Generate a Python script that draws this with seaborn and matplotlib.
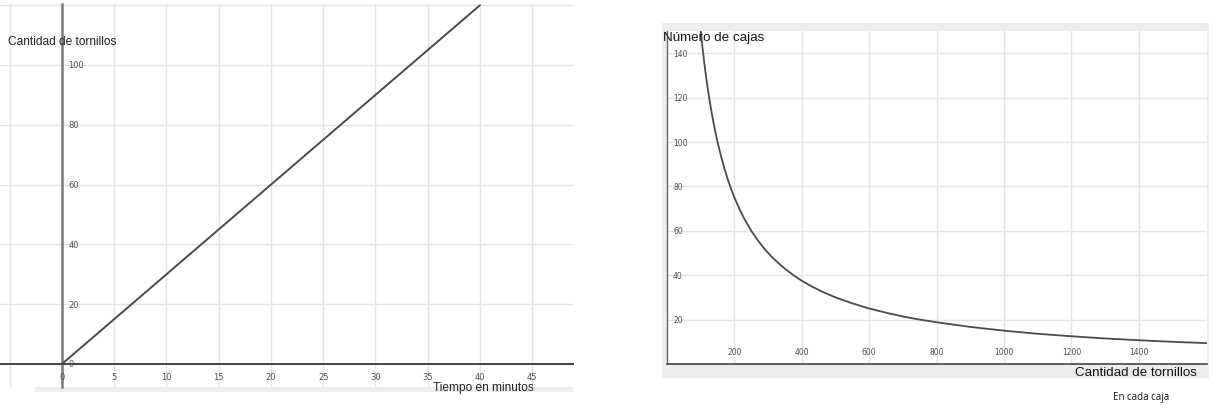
import matplotlib
matplotlib.use("Agg")
import matplotlib.pyplot as plt
import seaborn as sns
import pandas as pd
from matplotlib.patches import Rectangle

# Left chart: screws produced over time
tiempo = [0, 40]
tornillos = [0, 120]
ticks_tiempo = [0, 5, 10, 15, 20, 25, 30, 35, 40, 45]
ticks_tornillos = [0, 20, 40, 60, 80, 100, 120]
labels_tornillos = ["0", "20", "40", "60", "80", "100", ""]

# Right chart: number of boxes vs screws per box
por_caja = [100, 105, 110, 115, 120, 125, 130, 135, 140, 145, 150, 160, 170, 180, 190,
            200, 215, 230, 250, 270, 290, 310, 330, 350, 375, 400, 430, 460, 500,
            550, 600, 650, 700, 750, 800, 900, 1000, 1100, 1200, 1300, 1400, 1500, 1600]
cajas = [150, 142.9, 136.4, 130.4, 125, 120, 115.4, 111.1, 107.1, 103.4, 100, 93.8, 88.2,
         83.3, 78.9, 75, 69.8, 65.2, 60, 55.6, 51.7, 48.4, 45.5, 42.9, 40, 37.5, 34.9,
         32.6, 30, 27.3, 25, 23.1, 21.4, 20, 18.8, 16.7, 15, 13.6, 12.5, 11.5, 10.7, 10, 9.4]
ticks_por_caja = [200, 400, 600, 800, 1000, 1200, 1400]
ticks_cajas = [20, 40, 60, 80, 100, 120, 140]

W, H = 1218, 414

sns.set_style("white")
plt.rcParams["font.family"] = ["Liberation Sans", "DejaVu Sans"]

fig = plt.figure(figsize=(W / 100, H / 100), dpi=100)


def box(x0, y0, x1, y1):
    # pixel box (top-left origin) -> figure fraction rect
    return [x0 / W, 1 - y1 / H, (x1 - x0) / W, (y1 - y0) / H]


def px(x, y):
    return x / W, 1 - y / H


grid_col = "#e4e4e4"
tick_col = "#505050"

# grey backgrounds behind the charts
fig.patches.append(Rectangle(px(35, 393), 538 / W, 5 / H, transform=fig.transFigure,
                             facecolor="#ececec", edgecolor="none", zorder=-5))
fig.patches.append(Rectangle(px(662, 379), 547 / W, 355 / H, transform=fig.transFigure,
                             facecolor="#ededed", edgecolor="none", zorder=-5))

# ----- Left chart -----
ax1 = fig.add_axes(box(0, 5, 573, 388))
ax1.patch.set_alpha(0)
df1 = pd.DataFrame({"t": tiempo, "n": tornillos})
sns.lineplot(data=df1, x="t", y="n", ax=ax1, color="#4a4a4a", linewidth=1.4, zorder=5)
ax1.set_xlim(-5.93, 48.9)
ax1.set_ylim(-7.7, 120.4)
for v in [-5] + ticks_tiempo:
    ax1.axvline(v, color=grid_col, linewidth=1, zorder=0)
for v in ticks_tornillos:
    ax1.axhline(v, color=grid_col, linewidth=1, zorder=0)
for s in ["top", "right"]:
    ax1.spines[s].set_visible(False)
ax1.spines["left"].set_position(("data", 0))
ax1.spines["bottom"].set_position(("data", 0))
ax1.spines["left"].set_color("#7a7a7a")
ax1.spines["left"].set_linewidth(1.8)
ax1.spines["bottom"].set_color("#444444")
ax1.spines["bottom"].set_linewidth(1.4)
ax1.set_xticks(ticks_tiempo)
ax1.set_yticks(ticks_tornillos)
ax1.tick_params(direction="inout", length=8.5, width=1.2, color="#333333",
                labelleft=False, labelbottom=False)
for v in ticks_tiempo:
    ax1.text(v, -2.6, str(v), ha="center", va="top", fontsize=6,
             color=tick_col, family="DejaVu Sans")
for v, lab in zip(ticks_tornillos, labels_tornillos):
    ax1.text(0.6, v, lab, ha="left", va="center", fontsize=6,
             color=tick_col, family="DejaVu Sans")
ax1.set_xlabel("")
ax1.set_ylabel("")
fig.text(*px(8, 42), "Cantidad de tornillos", ha="left", va="center",
         fontsize=8.6, color="#222222")
fig.text(*px(433, 388), "Tiempo en minutos", ha="left", va="center",
         fontsize=8.6, color="#222222")

# ----- Right chart -----
ax2 = fig.add_axes(box(667, 32, 1207, 365))
ax2.set_facecolor("white")
df2 = pd.DataFrame({"x": por_caja, "y": cajas})
sns.lineplot(data=df2, x="x", y="y", ax=ax2, color="#4a4a4a", linewidth=1.3, zorder=5)
ax2.set_xlim(0, 1602)
ax2.set_ylim(0, 150)
for v in ticks_por_caja:
    ax2.axvline(v, color=grid_col, linewidth=1, zorder=0)
for v in ticks_cajas:
    ax2.axhline(v, color=grid_col, linewidth=1, zorder=0)
for s in ["top", "right"]:
    ax2.spines[s].set_visible(False)
ax2.spines["left"].set_color("#666666")
ax2.spines["left"].set_linewidth(1.0)
ax2.spines["bottom"].set_color("#444444")
ax2.spines["bottom"].set_linewidth(1.2)
ax2.set_xticks(ticks_por_caja + [1600])
ax2.set_yticks(ticks_cajas)
ax2.tick_params(axis="y", direction="in", length=4, width=1, color="#444444", labelleft=False)
ax2.tick_params(axis="x", direction="inout", length=6, width=1, color="#444444", labelbottom=False)
for v in ticks_por_caja:
    ax2.text(v, 3.5, str(v), ha="center", va="bottom", fontsize=5.5,
             color=tick_col, family="DejaVu Sans")
for v in ticks_cajas:
    ax2.text(18, v, str(v), ha="left", va="center", fontsize=5.5,
             color=tick_col, family="DejaVu Sans")
ax2.set_xlabel("")
ax2.set_ylabel("")
fig.text(*px(663, 38), "Número de cajas", ha="left", va="center",
         fontsize=9.6, color="#111111", zorder=10)
fig.text(*px(1197, 373), "Cantidad de tornillos", ha="right", va="center",
         fontsize=9.6, color="#111111")
fig.text(*px(1141, 398), "En cada caja", ha="center", va="center",
         fontsize=7, color="#111111", family=["Open Sans", "DejaVu Sans"])

fig.savefig("out.png", dpi=100)
